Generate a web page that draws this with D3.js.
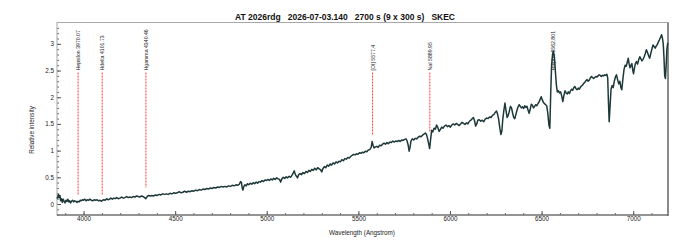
<!DOCTYPE html>
<html>
<head>
<meta charset="utf-8">
<script src="https://cdn.jsdelivr.net/npm/d3@7"></script>
<style>
  body { margin: 0; background: #fff; }
  text { font-family: "Liberation Sans", Arial, sans-serif; }
</style>
</head>
<body>
<div id="chart"></div>
<script>
// spectrum (wavelength in Angstrom, relative intensity)
const wavelength = [
  3855,3859,3863,3867,3871,3875,3880,3884,3889,3894,3899,3904,3909,3914,3919,3924,3929,3934,3940,3946,
  3952,3958,3964,3970,3976,3982,3988,3994,4000,4007,4014,4021,4028,4035,4042,4050,4058,4066,4074,4082,
  4090,4098,4104,4111,4118,4126,4133,4141,4149,4157,4165,4173,4181,4190,4199,4208,4217,4226,4235,4244,
  4253,4262,4271,4280,4289,4298,4307,4316,4325,4333,4340,4347,4355,4364,4373,4382,4392,4402,4412,4422,
  4432,4442,4452,4462,4472,4482,4492,4502,4512,4522,4532,4542,4552,4562,4572,4582,4592,4602,4612,4622,
  4632,4642,4652,4662,4672,4682,4692,4702,4712,4722,4732,4742,4752,4762,4772,4782,4792,4802,4812,4822,
  4832,4842,4850,4857,4862,4866,4870,4875,4881,4888,4895,4902,4910,4918,4926,4934,4942,4950,4958,4966,
  4974,4982,4990,4998,5006,5014,5022,5030,5038,5046,5054,5062,5070,5076,5082,5090,5098,5106,5114,5122,
  5130,5138,5144,5150,5156,5162,5168,5174,5182,5190,5198,5206,5214,5222,5230,5238,5246,5254,5262,5270,
  5278,5286,5294,5300,5306,5314,5322,5330,5338,5346,5354,5362,5370,5378,5386,5394,5402,5410,5418,5426,
  5434,5442,5450,5458,5466,5474,5482,5490,5498,5506,5514,5522,5530,5538,5546,5554,5562,5570,5575,5580,
  5586,5593,5600,5608,5616,5624,5632,5640,5648,5656,5664,5672,5680,5688,5696,5704,5712,5720,5728,5736,
  5744,5752,5760,5766,5772,5777,5782,5787,5794,5802,5810,5818,5826,5834,5842,5850,5858,5866,5872,5878,
  5884,5889,5894,5900,5906,5913,5920,5927,5934,5941,5948,5955,5962,5970,5978,5986,5994,6002,6010,6018,
  6026,6034,6042,6050,6058,6066,6074,6082,6090,6098,6106,6114,6122,6128,6134,6140,6146,6152,6160,6168,
  6176,6184,6192,6200,6208,6216,6224,6232,6240,6248,6254,6260,6266,6272,6278,6283,6288,6294,6300,6306,
  6312,6318,6324,6330,6336,6342,6348,6354,6360,6366,6372,6378,6384,6390,6396,6402,6408,6414,6420,6426,
  6432,6438,6444,6450,6456,6462,6468,6474,6480,6486,6492,6498,6504,6510,6516,6522,6528,6534,6540,6545,
  6550,6555,6560,6564,6568,6572,6576,6581,6586,6592,6598,6604,6610,6616,6622,6628,6634,6640,6646,6652,
  6658,6664,6670,6676,6682,6688,6694,6700,6706,6712,6718,6724,6730,6736,6742,6748,6754,6760,6766,6772,
  6778,6784,6790,6796,6802,6808,6814,6820,6826,6832,6838,6844,6850,6856,6861,6865,6869,6874,6879,6885,
  6891,6897,6903,6909,6915,6921,6927,6933,6938,6944,6950,6956,6962,6968,6973,6978,6983,6988,6993,6998,
  7002,7007,7012,7018,7024,7030,7036,7042,7048,7054,7060,7066,7072,7078,7084,7090,7096,7102,7108,7114,
  7120,7126,7132,7138,7144,7150,7155,7160,7164,7168,7172,7176,7180,7184,7189]
const intensity = [
  0.10,0.13,0.18,0.12,0.16,0.06,0.10,0.03,0.09,0.05,0.02,0.07,0.05,0.09,0.04,0.06,0.02,0.05,0.07,0.04,
  0.06,0.05,0.03,0.05,0.04,0.07,0.06,0.08,0.07,0.09,0.06,0.08,0.07,0.09,0.07,0.06,0.08,0.07,0.08,0.06,
  0.07,0.05,0.07,0.08,0.07,0.10,0.08,0.09,0.11,0.09,0.11,0.10,0.12,0.10,0.11,0.13,0.11,0.12,0.14,0.12,
  0.13,0.12,0.14,0.13,0.15,0.14,0.13,0.15,0.14,0.12,0.10,0.14,0.16,0.15,0.16,0.15,0.17,0.16,0.18,0.17,
  0.19,0.18,0.19,0.18,0.20,0.19,0.21,0.20,0.21,0.23,0.21,0.22,0.24,0.22,0.24,0.23,0.25,0.24,0.26,0.25,
  0.27,0.26,0.28,0.27,0.29,0.28,0.30,0.29,0.31,0.30,0.32,0.31,0.33,0.32,0.33,0.32,0.34,0.33,0.35,0.34,
  0.36,0.35,0.37,0.42,0.40,0.30,0.26,0.33,0.36,0.34,0.38,0.36,0.39,0.37,0.40,0.38,0.41,0.39,0.42,0.41,
  0.44,0.42,0.45,0.44,0.46,0.44,0.47,0.45,0.48,0.46,0.49,0.47,0.46,0.41,0.47,0.50,0.48,0.51,0.49,0.52,
  0.50,0.54,0.58,0.62,0.55,0.52,0.49,0.55,0.57,0.55,0.59,0.57,0.61,0.59,0.63,0.61,0.65,0.63,0.67,0.64,
  0.68,0.66,0.64,0.60,0.66,0.70,0.68,0.73,0.71,0.75,0.73,0.77,0.75,0.79,0.77,0.80,0.79,0.83,0.81,0.85,
  0.84,0.87,0.86,0.89,0.91,0.93,0.92,0.94,0.93,0.96,0.95,0.97,0.96,0.99,0.98,1.01,1.02,1.06,1.17,1.10,
  1.05,1.07,1.08,1.06,1.10,1.09,1.12,1.14,1.12,1.15,1.13,1.16,1.15,1.18,1.16,1.18,1.17,1.19,1.17,1.20,
  1.19,1.21,1.22,1.18,1.10,0.99,1.06,1.18,1.22,1.20,1.23,1.22,1.25,1.27,1.26,1.29,1.31,1.33,1.30,1.22,
  1.12,1.04,1.20,1.38,1.35,1.42,1.40,1.48,1.43,1.36,1.40,1.44,1.42,1.46,1.48,1.45,1.47,1.44,1.48,1.50,
  1.48,1.51,1.49,1.47,1.50,1.53,1.51,1.49,1.52,1.50,1.55,1.57,1.60,1.62,1.56,1.46,1.50,1.57,1.58,1.55,
  1.57,1.54,1.59,1.61,1.60,1.63,1.62,1.66,1.68,1.72,1.74,1.68,1.58,1.42,1.30,1.36,1.58,1.75,1.89,1.75,
  1.62,1.66,1.74,1.83,1.80,1.70,1.62,1.60,1.68,1.76,1.82,1.86,1.83,1.80,1.82,1.79,1.84,1.81,1.83,1.76,
  1.70,1.78,1.87,1.85,1.80,1.83,1.86,1.84,1.88,1.91,1.96,2.01,1.95,1.90,1.88,1.86,1.84,1.70,1.48,1.42,
  2.10,2.62,2.80,2.86,2.80,2.66,2.45,2.22,2.10,2.12,2.08,2.10,2.02,1.92,2.04,2.12,2.08,2.06,2.10,2.07,
  2.12,2.15,2.13,2.18,2.20,2.16,2.14,2.17,2.15,2.19,2.21,2.23,2.26,2.28,2.31,2.33,2.30,2.32,2.36,2.39,
  2.37,2.35,2.37,2.39,2.38,2.40,2.42,2.41,2.39,2.41,2.40,2.42,2.41,2.43,2.36,1.90,1.54,1.85,2.15,2.22,
  2.18,2.30,2.38,2.42,2.33,2.25,2.30,2.18,2.14,2.35,2.52,2.60,2.58,2.66,2.73,2.62,2.55,2.60,2.63,2.50,
  2.44,2.55,2.63,2.67,2.62,2.70,2.76,2.72,2.68,2.71,2.76,2.82,2.89,2.84,2.78,2.73,2.82,2.90,2.98,2.95,
  2.92,2.96,2.99,3.04,3.08,3.13,3.17,3.10,3.00,2.75,2.40,2.35,2.60,2.90,3.02]

// identified lines
const lineNames = ["Hepsilon 3970.07", "Hdelta 4101.73", "Hgamma 4340.46", "[OI] 5577.4", "NaI 5889.95", "Halpha 6562.801"]
const lineWave = [3970.07, 4101.73, 4340.46, 5577.4, 5889.95, 6562.801]
const lineEnd = [0.16, 0.17, 0.31, 1.29, 1.35, 2.6]

const xMajor = [4000, 4500, 5000, 5500, 6000, 6500, 7000]
const yMajor = [0, 0.5, 1, 1.5, 2, 2.5, 3]
const title = "AT 2026rdg   2026-07-03.140   2700 s (9 x 300 s)   SKEC"

const W = 690, H = 246
const margin = { top: 22.5, right: 22, bottom: 31, left: 57 }
const width = W - margin.left - margin.right
const height = H - margin.top - margin.bottom

const svg = d3.select('#chart').append('svg')
  .attr('width', W).attr('height', H)

svg.append('text')
  .attr('x', 345).attr('y', 19.5)
  .attr('text-anchor', 'middle')
  .attr('font-size', 8.5).attr('font-weight', 'bold')
  .attr('fill', '#111')
  .style('white-space', 'pre')
  .text(title)

const g = svg.append('g').attr('transform', `translate(${margin.left},${margin.top})`)

const x = d3.scaleLinear().domain([3855, 7190]).range([0, width])
const y = d3.scaleLinear().domain([-0.206, 3.4]).range([height, 0])

// minor ticks
g.append('g').attr('transform', `translate(0,${height})`)
  .call(d3.axisBottom(x).tickValues(d3.range(3900, 7200, 100)).tickSize(-2).tickFormat(''))
  .call(a => a.select('.domain').remove())
  .selectAll('line').attr('stroke', '#666')
g.append('g')
  .call(d3.axisLeft(y).tickValues(d3.range(-2, 34).map(d => d / 10)).tickSize(-2).tickFormat(''))
  .call(a => a.select('.domain').remove())
  .selectAll('line').attr('stroke', '#666')

// major ticks
const xa = g.append('g').attr('transform', `translate(0,${height})`)
  .call(d3.axisBottom(x).tickValues(xMajor).tickSize(-4).tickPadding(2).tickFormat(d3.format('d')))
xa.select('.domain').remove()
xa.selectAll('line').attr('stroke', '#555')
xa.selectAll('text').attr('font-size', 6.3).attr('fill', '#222').attr('font-family', null)

const ya = g.append('g')
  .call(d3.axisLeft(y).tickValues(yMajor).tickSize(-4).tickPadding(3).tickFormat(d => String(d)))
ya.select('.domain').remove()
ya.selectAll('line').attr('stroke', '#555')
ya.selectAll('text').attr('font-size', 6.3).attr('fill', '#222').attr('font-family', null)

// frame
g.append('rect').attr('width', width).attr('height', height)
  .attr('fill', 'none').attr('stroke', '#a8a8a8').attr('stroke-width', 1)
g.append('line').attr('x1', width).attr('x2', width).attr('y1', 0).attr('y2', height + 1)
  .attr('stroke', '#8a8a8a').attr('stroke-width', 2)
g.append('line').attr('x1', 0).attr('x2', width).attr('y1', height).attr('y2', height)
  .attr('stroke', '#555').attr('stroke-width', 1.2)

// axis titles
svg.append('text')
  .attr('x', 362).attr('y', 234.5)
  .attr('text-anchor', 'middle').attr('font-size', 6.3).attr('fill', '#222')
  .text('Wavelength (Angstrom)')
svg.append('text')
  .attr('transform', 'translate(34,130) rotate(-90)')
  .attr('text-anchor', 'middle').attr('font-size', 6.3).attr('fill', '#222')
  .text('Relative intensity')

// line markers
const labelBase = 48
lineNames.forEach((name, i) => {
  const px = x(lineWave[i])
  const y2 = y(lineEnd[i])
  if (y2 > labelBase + 2) {
    g.append('line')
      .attr('x1', px).attr('x2', px)
      .attr('y1', labelBase + 2).attr('y2', y2)
      .attr('stroke', '#ff3b3b').attr('stroke-width', 1)
      .attr('stroke-dasharray', '2,1')
  }
  g.append('text')
    .attr('transform', `translate(${px + 2},${labelBase}) rotate(-90)`)
    .attr('font-size', 5.2).attr('fill', '#222')
    .text(name)
})

// spectrum
const pts = wavelength.map((w, i) => ({ x: w, y: intensity[i] }))
const line = d3.line().x(d => x(d.x)).y(d => y(d.y))
g.append('path')
  .datum(pts)
  .attr('fill', 'none')
  .attr('stroke', '#1d3838')
  .attr('stroke-width', 1.5)
  .attr('stroke-linejoin', 'round')
  .attr('d', line)
</script>
</body>
</html>
